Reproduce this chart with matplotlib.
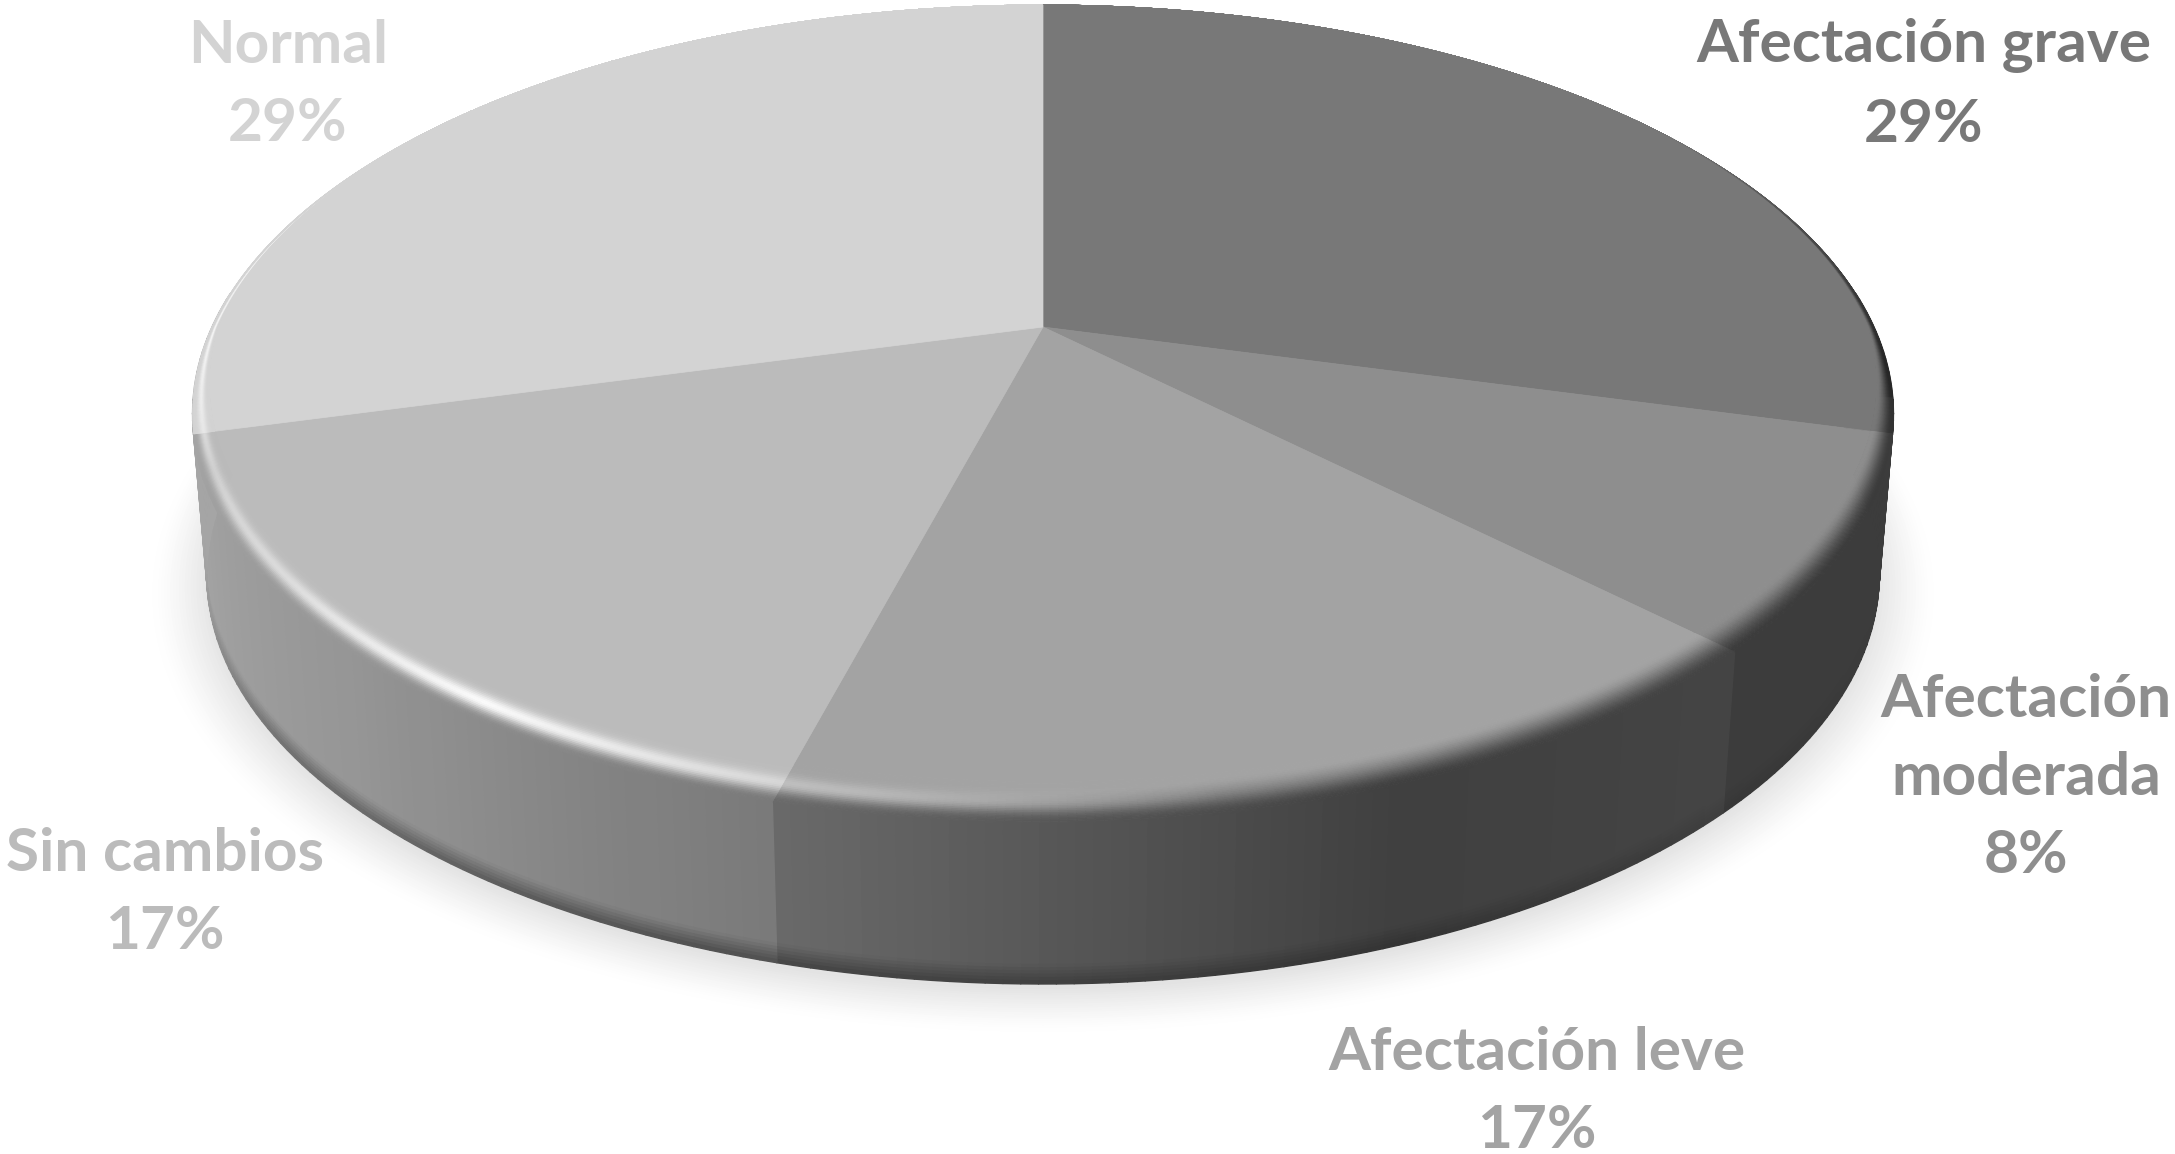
import numpy as np
import matplotlib
matplotlib.use("Agg")
import matplotlib.pyplot as plt
from matplotlib.collections import PolyCollection

# Data
categories = ["Afectación grave", "Afectación\nmoderada", "Afectación leve", "Sin cambios", "Normal"]
counts = [7, 2, 4, 4, 7]
face_greys = [0x78, 0x8E, 0xA3, 0xBB, 0xD3]
label_xy = [(1924, 85), (2026, 778), (1537, 1092), (165, 893), (288, 85)]

# Projection of the disc (pixel space of the figure)
CX, CY = 1043, 327
A, B, K = 831, 390.5, 0.2127
A2, CY2 = 817, 488

plt.rcParams["font.family"] = ["Lato", "DejaVu Sans"]
fig = plt.figure(figsize=(21.75, 11.54), dpi=100, facecolor="white")
ax = fig.add_axes([0, 0, 1, 1])
ax.set_xlim(0, 2175)
ax.set_ylim(1154, 0)
ax.axis("off")


def rim(theta, r=1.0, a=A, cy=CY):
    t = np.radians(theta)
    X, Y = r * np.sin(t), -r * np.cos(t)
    w = 1 - K * Y
    return np.column_stack([CX + a * X / w, cy + B * Y / w])


def inner_r(theta):
    Y = -np.cos(np.radians(theta))
    return 1 - 0.012 * np.clip(Y + 0.6, 0, 1) - 0.055 * np.clip(Y, 0, 1)


def side_shade(theta):
    return np.interp(theta, [70, 105, 135, 160, 195, 225, 255, 290],
                     [.34, .42, .42, .39, .65, .80, .88, .90])


def highlight(theta):
    return np.interp(theta, [150, 170, 190, 194.9, 195.1, 215, 235, 250, 270, 290, 325],
                     [0, .05, .3, .35, .45, .95, .5, .35, .8, .6, 0])


def fringe(theta):
    return np.interp(theta, [110, 140, 170, 200, 235, 260], [1, .9, .75, .62, .72, 1])


def grey(v):
    v = np.clip(v / 255, 0, 1)
    return np.column_stack([v, v, v])


# Soft shadow under the disc
n_sh = 22
tt = np.linspace(0, 360, 361)
for i in range(n_sh):
    f = i / (n_sh - 1)
    r = 1.065 - 0.07 * f
    pts = rim(tt, r, A2, CY2 + 8)
    g = 255 - 28 * f ** 1.3
    ax.fill(pts[:, 0], pts[:, 1], color=grey(np.array([g]))[0], lw=0, zorder=1)

fractions = np.array(counts) / sum(counts)
edges = np.concatenate([[0], np.cumsum(fractions) * 360])

side_levels = np.array([0, .88, .90, .92, .94, .96, .98, 1.0])
bevel_levels = np.linspace(0, 1, 25)

for i, (lo, hi) in enumerate(zip(edges[:-1], edges[1:])):
    face = float(face_greys[i])
    # The far-left wall keeps the neighbouring slice's tone
    wall = float(face_greys[i - 1]) if lo >= 250 else face
    # Side wall
    s_lo, s_hi = max(lo, 85), min(hi, 275)
    if s_hi > s_lo:
        th = np.linspace(s_lo, s_hi, int((s_hi - s_lo) / 1.0) + 2)
        top, bot = rim(th), rim(th, 1.0, A2, CY2)
        polys, cols = [], []
        for t0, t1 in zip(side_levels[:-1], side_levels[1:]):
            p0 = top + (bot - top) * t0
            p1 = top + (bot - top) * t1
            for j in range(len(th) - 1):
                mid = 0.5 * (th[j] + th[j + 1])
                polys.append([p0[j], p0[j + 1], p1[j + 1], p1[j]])
                amt = np.clip((0.5 * (t0 + t1) - .88) / .12, 0, 1)
                shade = side_shade(min(mid, 255))
                cols.append(wall * shade * (1 - amt * (1 - fringe(mid))))
        c = grey(np.array(cols))
        ax.add_collection(PolyCollection(polys, facecolors=c, edgecolors=c, linewidths=1.0, zorder=2))

    # Flat top of the slice
    th = np.linspace(lo, hi, int(hi - lo) * 2 + 2)
    arc = rim(th, inner_r(th))
    pts = np.vstack([[CX, CY], arc])
    ax.fill(pts[:, 0], pts[:, 1], color=grey(np.array([face]))[0], ec=grey(np.array([face]))[0], lw=.5, zorder=4)

    # Rounded bevel between the top and the wall
    polys, cols = [], []
    ri = inner_r(th)
    for t0, t1 in zip(bevel_levels[:-1], bevel_levels[1:]):
        p0 = rim(th, ri + (1 - ri) * t0)
        p1 = rim(th, ri + (1 - ri) * t1)
        tm = 0.5 * (t0 + t1)
        for j in range(len(th) - 1):
            mid = 0.5 * (th[j] + th[j + 1])
            polys.append([p0[j], p0[j + 1], p1[j + 1], p1[j]])
            h = highlight(mid)
            edge = wall * side_shade(np.clip(mid, 68, 255))
            if mid < 55 or mid > 255:
                edge = face
            elif mid < 100:
                edge = face + (edge * .8 - face) * np.clip((mid - 55) / 40, 0, 1)
            s0 = .45 - .35 * (1 - min(h * 2.5, 1))
            u = np.clip((tm - s0) / (.97 - s0), 0, 1)
            s = u * u * (3 - 2 * u)
            v = face * (1 - s) + edge * s
            v = v + (255 - v) * h * np.exp(-((tm - .55) / .2) ** 2)
            cols.append(v)
    c = grey(np.array(cols))
    ax.add_collection(PolyCollection(polys, facecolors=c, edgecolors=c, linewidths=.6, zorder=3))

# Labels
for name, frac, xy, g in zip(categories, fractions, label_xy, face_greys):
    ax.text(xy[0], xy[1], f"{name}\n{round(frac * 100)}%", ha="center", va="center",
            fontsize=43.5, fontweight="bold", color=grey(np.array([float(g)]))[0],
            linespacing=1.55, zorder=6)

fig.savefig("out.png", dpi=100, facecolor="white")
